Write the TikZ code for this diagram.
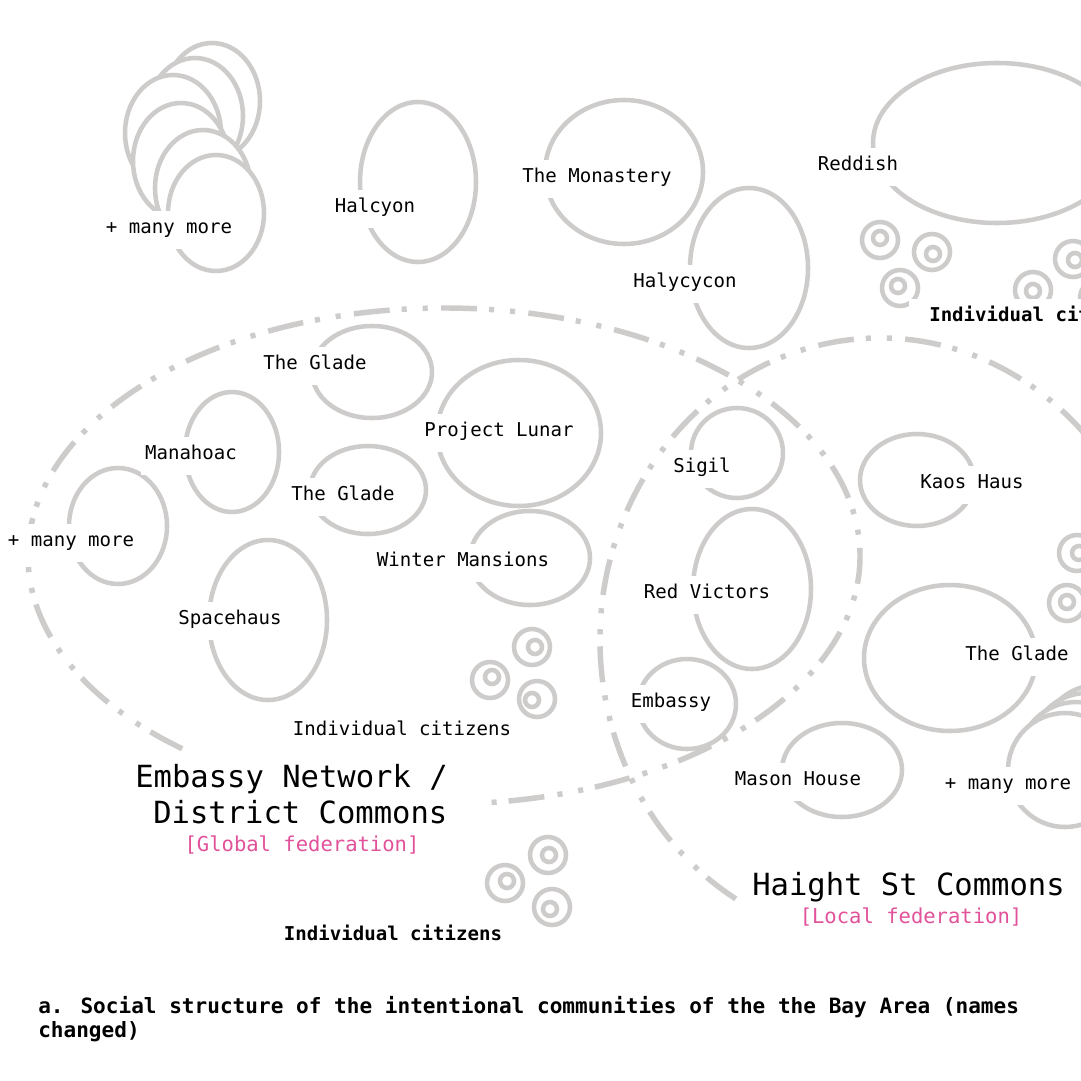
\documentclass[tikz,border=0pt]{standalone}
\usepackage{fontspec}
\setmainfont{DejaVu Sans Mono}
\usetikzlibrary{calc}
\definecolor{ringgray}{RGB}{206,203,203}
\definecolor{fedpink}{RGB}{226,82,154}
\newcommand{\lblfont}{\fontsize{14.3}{17}\selectfont}
\newcommand{\citmark}[4]{%
  \draw[ring] (#1,#2) circle[radius=18];
  \draw[ring] (#3,#4) circle[radius=7];}
\begin{document}
\begin{tikzpicture}[x=0.75pt,y=-0.75pt,
  ring/.style={draw=ringgray,line width=3.4pt},
  stackring/.style={ring,fill=white},
  fedline/.style={draw=ringgray,line width=4.1pt,
     dash pattern=on 27pt off 9pt on 3.8pt off 12pt on 3.8pt off 10pt},
  lbl/.style={fill=white,inner xsep=3pt,inner ysep=0pt,minimum height=28.5pt,
     text height=0.72em,text depth=0.2em,font=\lblfont,yshift=-3pt},
  lblb/.style={lbl,font=\lblfont\bfseries},
  bigtitle/.style={font=\fontsize{22.9}{27}\selectfont,inner sep=0pt,anchor=base west},
  fed/.style={text=fedpink,font=\fontsize{15.4}{18}\selectfont,inner sep=0pt,anchor=base},
  capt/.style={font=\bfseries\fontsize{15.8}{18}\selectfont,inner sep=0pt,anchor=base west}]
\useasboundingbox (0,0) rectangle (1081,1081);
\fill[white] (0,0) rectangle (1081,1081);

% federations (dash-dot-dot outlines)
\coordinate (embC) at (444,556);
\coordinate (haiC) at (880,640);
\draw[fedline] ($(embC)+(129:416 and 248)$) arc[start angle=129,end angle=444,x radius=416,y radius=248];
\draw[fedline] ($(haiC)+(121:280 and 302)$) arc[start angle=121,end angle=330,x radius=280,y radius=302];

% stacked communities, top left
\foreach \cx/\cy in {212/101,195/116,173/133,181/161,203/188,216/213}
  \draw[stackring] (\cx,\cy) ellipse[x radius=48,y radius=58];
% stacked communities, bottom right
\foreach \cx/\cy in {1098/742,1087/750,1076/759,1065/770}
  \draw[stackring] (\cx,\cy) ellipse[x radius=57,y radius=57];

% single communities
\draw[ring] (418,182) ellipse[x radius=58,y radius=80];   % Halcyon
\draw[ring] (624,172) ellipse[x radius=79,y radius=72];   % Monastery
\draw[ring] (749,268) ellipse[x radius=59,y radius=80];   % Halycycon
\draw[ring] (997,143) ellipse[x radius=124,y radius=80];  % Reddish
\draw[ring] (372,372) ellipse[x radius=60,y radius=46];   % The Glade top
\draw[ring] (232,452) ellipse[x radius=47,y radius=60];   % Manahoac
\draw[ring] (519,433) ellipse[x radius=82,y radius=73];   % Project Lunar
\draw[ring] (368,490) ellipse[x radius=58,y radius=44];   % The Glade 2
\draw[ring] (118,526) ellipse[x radius=49,y radius=58];   % many more left
\draw[ring] (530,558) ellipse[x radius=60,y radius=47];   % Winter Mansions
\draw[ring] (268,620) ellipse[x radius=59,y radius=80];   % Spacehaus
\draw[ring] (737,453) ellipse[x radius=46,y radius=45];   % Sigil
\draw[ring] (752,589) ellipse[x radius=59,y radius=80];   % Red Victors
\draw[ring] (687,704) ellipse[x radius=49,y radius=45];   % Embassy
\draw[ring] (842,770) ellipse[x radius=60,y radius=47];   % Mason House
\draw[ring] (917,480) ellipse[x radius=57,y radius=46];   % Kaos Haus
\draw[ring] (950,658) ellipse[x radius=86,y radius=73];   % The Glade right

% individual citizens
\citmark{880}{240}{880}{238}
\citmark{932}{252}{933}{254}
\citmark{900}{288}{898}{286}
\citmark{1033}{290}{1033}{291}
\citmark{1073}{259}{1075}{260}
\citmark{1098}{298}{1098}{298}
\citmark{532}{647}{535}{647}
\citmark{490}{680}{492}{677}
\citmark{537}{699}{532}{700}
\citmark{1077}{553}{1079}{553}
\citmark{1067}{603}{1067}{602}
\citmark{548}{855}{549}{855}
\citmark{505}{883}{507}{881}
\citmark{552}{907}{550}{909}

% labels
\node[lbl] (lMoreTL) at (169,226) {+ many more};
\node[lbl] (lHalcyon) at (375,205) {Halcyon};
\node[lbl] (lMonastery) at (597,175) {The Monastery};
\node[lbl] (lReddish) at (858,163) {Reddish};
\node[lbl] (lHalycycon) at (685,280) {Halycycon};
\node[lblb,anchor=west,inner xsep=0pt] (lCitTR) at (909,314) {\hspace*{15pt}Individual citizens};
\node[lbl] (lGladeA) at (315,362) {The Glade};
\node[lbl] (lLunar) at (499,429) {Project Lunar};
\node[lbl] (lManahoac) at (191,452) {Manahoac};
\node[lbl] (lGladeB) at (343,493) {The Glade};
\node[lbl] (lMoreL) at (71,539) {+ many more};
\node[lbl] (lWinter) at (463,559) {Winter Mansions};
\node[lbl] (lSpace) at (230,617) {Spacehaus};
\node[lbl] (lCitE) at (402,728) {Individual citizens};
\node[lbl] (lSigil) at (702,465) {Sigil};
\node[lbl] (lKaos) at (972,481) {Kaos Haus};
\node[lbl] (lRed) at (707,591) {Red Victors};
\node[lbl] (lGladeC) at (1017,653) {The Glade};
\node[lbl] (lEmbassy) at (671,700) {Embassy};
\node[lbl] (lMason) at (798,778) {Mason House};
\node[lbl] (lMoreR) at (1008,782) {+ many more};
\node[lblb] (lCitB) at (393,933) {Individual citizens};

% federation titles
\node[bigtitle] (tEmbA) at (135,787) {Embassy Network /};
\node[bigtitle] (tEmbB) at (153,823) {District Commons};
\node[fed] (tEmbF) at (302,851) {[Global federation]};
\node[bigtitle,fill=white] (tHai) at (752,895) {Haight St Commons};
\node[fed] (tHaiF) at (911,923) {[Local federation]};

% caption
\node[capt] (cap1) at (38,1013) {a. Social structure of the intentional communities of the the Bay Area (names};
\node[capt] (cap2) at (38,1037) {changed)};
\end{tikzpicture}
\end{document}
